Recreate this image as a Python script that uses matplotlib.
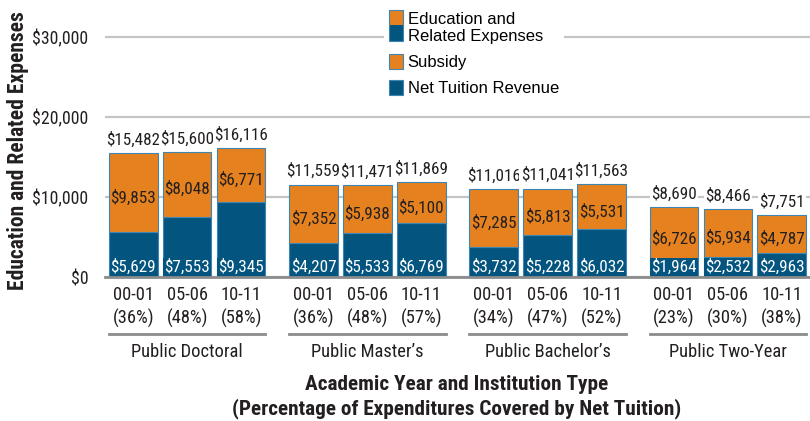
import numpy as np
import matplotlib
matplotlib.use("Agg")
import matplotlib.pyplot as plt
from matplotlib.patches import Rectangle
from matplotlib.legend_handler import HandlerBase

cond = ['Roboto Condensed', 'Archivo Narrow', 'Liberation Sans Narrow', 'Liberation Sans', 'DejaVu Sans']
plt.rcParams['font.family'] = cond

# data
groups = ["Public Doctoral", "Public Master\u2019s", "Public Bachelor\u2019s", "Public Two-Year"]
years = ["00-01", "05-06", "10-11"]
net_tuition = [5629, 7553, 9345, 4207, 5533, 6769, 3732, 5228, 6032, 1964, 2532, 2963]
subsidy = [9853, 8048, 6771, 7352, 5938, 5100, 7285, 5813, 5531, 6726, 5934, 4787]
totals = [15482, 15600, 16116, 11559, 11471, 11869, 11016, 11041, 11563, 8690, 8466, 7751]
pct = [36, 48, 58, 36, 48, 57, 34, 47, 52, 23, 30, 38]

orange = "#E5821F"
blue = "#03557F"
edge = "#3F85B3"
grid = "#C4C4C4"
txt = "#231F20"

fig = plt.figure(figsize=(8.1, 4.21), dpi=100)
ax = fig.add_axes([105/810, 1-277/421, 705/810, 264/421])

gstep = 3.34
x = np.array([g*gstep + i for g in range(4) for i in range(3)])
w = 0.9

ax.bar(x, net_tuition, w, color=blue, edgecolor=edge, linewidth=0.8, zorder=3)
ax.bar(x, subsidy, w, bottom=net_tuition, color=orange, edgecolor=edge, linewidth=0.8, zorder=3)

vs = 12.3
for xi, n, s, t in zip(x, net_tuition, subsidy, totals):
    ax.text(xi, t + 1700, "${:,}".format(t), ha='center', va='center', fontsize=vs,
            color=txt, zorder=4, bbox=dict(facecolor='white', edgecolor='none', pad=1))
    ax.text(xi, n + s/2 - 600, "${:,}".format(s), ha='center', va='center', fontsize=vs,
            color=txt, zorder=4)
    ax.text(xi, 1250, "${:,}".format(n), ha='center', va='center', fontsize=vs,
            color='white', zorder=4, bbox=dict(facecolor=blue, edgecolor='none', pad=0.6))

fs = 13.3
ax.set_ylim(0, 33000)
ax.set_xlim(-0.524, x[-1] + 0.524)
ax.set_yticks([0, 10000, 20000, 30000])
ax.set_yticklabels(["$0", "$10,000", "$20,000", "$30,000"], fontsize=12.8, color=txt)
ax.yaxis.grid(True, color=grid, linewidth=1.6, zorder=0)
ax.set_axisbelow(True)
ax.tick_params(axis='y', length=0, pad=12)
ax.set_xticks([])
for s in ['top', 'right', 'left']:
    ax.spines[s].set_visible(False)
ax.spines['bottom'].set_color('#8C8C8C')
ax.spines['bottom'].set_linewidth(2)
ax.spines['bottom'].set_zorder(3.5)

# x tick labels, group lines and names (axes-fraction y from pixel rows)
tr = ax.get_xaxis_transform()
def fy(py):
    return (277 - py) / 264

for i, xi in enumerate(x):
    ax.text(xi, fy(295), years[i % 3], transform=tr, ha='center', va='center',
            fontsize=fs, color=txt)
    ax.text(xi, fy(318), "({}%)".format(pct[i]), transform=tr, ha='center', va='center',
            fontsize=fs, color=txt)

for g, name in enumerate(groups):
    x0 = g*gstep - 0.45
    x1 = g*gstep + 2.45
    ax.plot([x0, x1], [fy(334), fy(334)], transform=tr, color='#8C8C8C', lw=2, clip_on=False)
    ax.text(g*gstep + 1, fy(352), name, transform=tr, ha='center', va='center',
            fontsize=fs, color=txt)

fig.text(18/810, 1 - 151/421, "Education and Related Expenses", rotation=90, ha='center',
         va='center', fontsize=15.5, fontweight='bold', color=txt)
fig.text(457/810, 1 - 385/421, "Academic Year and Institution Type", ha='center',
         va='center', fontsize=15.3, fontweight='bold', color=txt)
fig.text(457/810, 1 - 409/421, "(Percentage of Expenditures Covered by Net Tuition)",
         ha='center', va='center', fontsize=15.3, fontweight='bold', color=txt)


# legend with split patch for first entry
class SplitHandler(HandlerBase):
    def create_artists(self, legend, orig_handle, xd, yd, width, height, fontsize, trans):
        h = height * 2.1
        y0 = yd - height * 0.6
        r1 = Rectangle((xd, y0 + h/2), width, h/2, facecolor=orange, edgecolor='none', transform=trans)
        r2 = Rectangle((xd, y0), width, h/2, facecolor=blue, edgecolor='none', transform=trans)
        r3 = Rectangle((xd, y0), width, h, facecolor='none', edgecolor=edge, lw=0.8, transform=trans)
        return [r1, r2, r3]


split = Rectangle((0, 0), 1, 1)
h_sub = Rectangle((0, 0), 1, 1, facecolor=orange, edgecolor=edge, lw=0.8)
h_net = Rectangle((0, 0), 1, 1, facecolor=blue, edgecolor=edge, lw=0.8)
leg = ax.legend([split, h_sub, h_net],
                ["Education and\nRelated Expenses", "Subsidy", "Net Tuition Revenue"],
                handler_map={split: SplitHandler()},
                loc='upper left', bbox_to_anchor=(376/810, 1.004), bbox_transform=fig.transFigure,
                frameon=True, fancybox=False, edgecolor='none', framealpha=1,
                prop={'family': ['Liberation Sans', 'DejaVu Sans'], 'size': 12},
                handlelength=0.8, handleheight=1.0, handletextpad=0.3, labelspacing=0.6,
                borderpad=0.3)
leg.set_zorder(5)

fig.savefig("out.png", dpi=100)
